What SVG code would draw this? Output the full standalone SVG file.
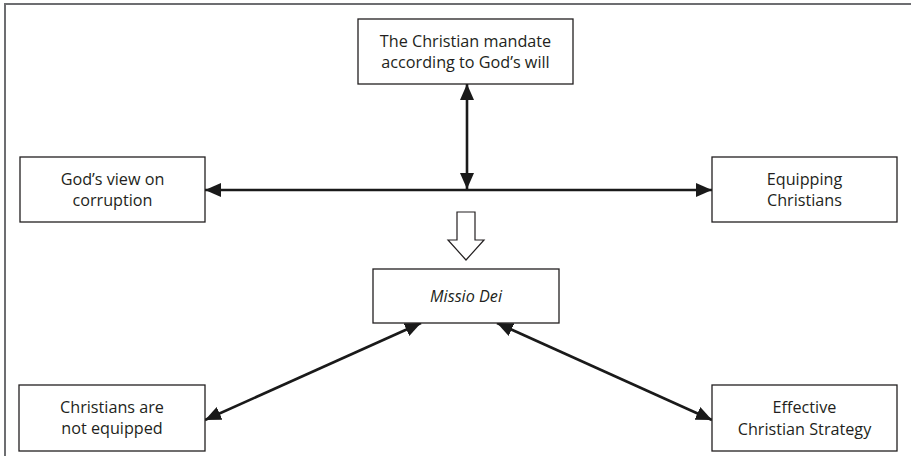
<svg xmlns="http://www.w3.org/2000/svg" width="911" height="466" viewBox="0 0 911 466">
<style>
  .box { fill: #ffffff; stroke: #231f20; stroke-width: 1.3; }
  .lbl { font-family: "Open Sans", "Liberation Sans", Arial, sans-serif; font-size: 16.2px; fill: #231f20; text-anchor: middle; }
  .conn { stroke: #1a1a1a; stroke-width: 2.6; fill: none; marker-start: url(#ah); marker-end: url(#ah); }
  .frame { stroke: #6d6e71; stroke-width: 2; fill: none; }
</style>
<defs>
  <marker id="ah" markerUnits="userSpaceOnUse" markerWidth="16" markerHeight="14" refX="16" refY="7" orient="auto-start-reverse">
    <path d="M0,0 L16,7 L0,14 z" fill="#1a1a1a"/>
  </marker>
</defs>
<rect width="911" height="466" fill="#ffffff"/>
<path class="frame" d="M5,456 L5,4 L911,4"/>

<g id="connectors">
  <line class="conn" x1="467" y1="84" x2="467" y2="189"/>
  <line class="conn" x1="205" y1="190" x2="712" y2="190"/>
  <line class="conn" x1="421" y1="323" x2="205" y2="420"/>
  <line class="conn" x1="497" y1="323" x2="712" y2="420"/>
  <path d="M457,212 L475,212 L475,240 L484,240 L466,260 L448,240 L457,240 Z" fill="#ffffff" stroke="#231f20" stroke-width="1.2"/>
</g>

<g id="mandate">
  <rect class="box" x="358" y="19" width="215" height="65"/>
  <text class="lbl" x="465.5" y="47">The Christian mandate</text>
  <text class="lbl" x="465.5" y="68">according to God’s will</text>
</g>
<g id="corruption">
  <rect class="box" x="20" y="157" width="185" height="65"/>
  <text class="lbl" x="112.5" y="185">God’s view on</text>
  <text class="lbl" x="112.5" y="206">corruption</text>
</g>
<g id="equipping">
  <rect class="box" x="712" y="157" width="185" height="65"/>
  <text class="lbl" x="804.5" y="185">Equipping</text>
  <text class="lbl" x="804.5" y="206">Christians</text>
</g>
<g id="missio">
  <rect class="box" x="373" y="269" width="186" height="54"/>
  <text class="lbl" x="466" y="302" font-style="italic">Missio Dei</text>
</g>
<g id="notequipped">
  <rect class="box" x="19" y="385" width="186" height="66"/>
  <text class="lbl" x="112" y="413">Christians are</text>
  <text class="lbl" x="112" y="434">not equipped</text>
</g>
<g id="strategy">
  <rect class="box" x="712" y="385" width="185" height="66"/>
  <text class="lbl" x="804.5" y="413">Effective</text>
  <text class="lbl" x="804.5" y="435">Christian Strategy</text>
</g>
</svg>
